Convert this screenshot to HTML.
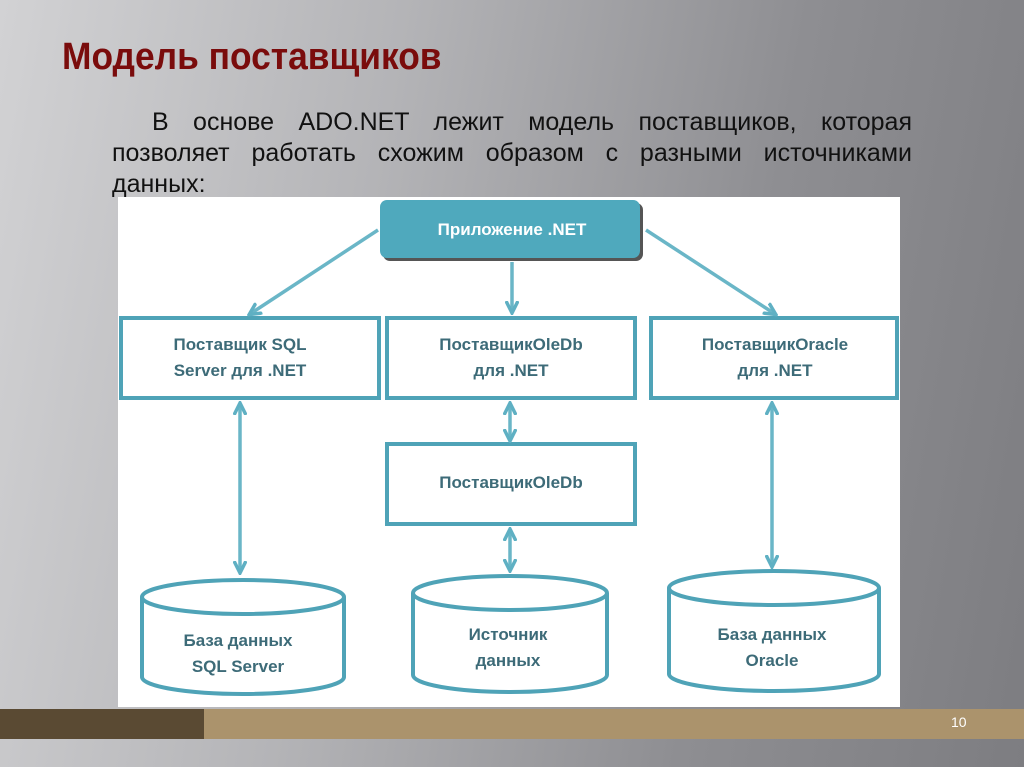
<!DOCTYPE html>
<html><head><meta charset="utf-8"><style>
html,body{margin:0;padding:0}
body{width:1024px;height:767px;position:relative;overflow:hidden;
background:linear-gradient(100deg,#d2d2d4 0%,#b4b4b7 35%,#8e8e92 70%,#7d7d81 100%);
font-family:"Liberation Sans",sans-serif}
.t{position:absolute;left:62px;top:36px;font-size:38px;font-weight:bold;color:#7a0c0c;transform:scaleX(.93);transform-origin:left top;white-space:nowrap}
.p{position:absolute;left:112px;top:107px;width:800px;font-size:25px;color:#111;line-height:31px}
.p div{text-align:justify;text-align-last:justify;height:31px}
.p div.f{padding-left:40px}
.p div.l{text-align-last:left}
.bar1{position:absolute;left:0;top:709px;width:204px;height:30px;background:#5a4a33}
.bar2{position:absolute;left:204px;top:709px;width:820px;height:30px;background:#ab936c}
.n{position:absolute;left:951px;top:714px;color:#fff;font-size:14px}
</style></head><body>
<div class="t">Модель поставщиков</div>
<div class="p"><div class="f">В основе ADO.NET лежит модель поставщиков, которая</div><div>позволяет работать схожим образом с разными источниками</div><div class="l">данных:</div></div>
<svg style="position:absolute;left:0;top:0" width="1024" height="767">
<defs><marker id="a" markerWidth="14" markerHeight="14" refX="11" refY="7" orient="auto-start-reverse" markerUnits="userSpaceOnUse"><path d="M0,1 L12,7 L0,13" fill="none" stroke="#5fb0c3" stroke-width="3.5"/></marker></defs>
<rect x="118" y="197" width="782" height="510" fill="#fff"/>
<rect x="383" y="203" width="260" height="58" rx="7" fill="#555"/>
<rect x="380" y="200" width="260" height="58" rx="7" fill="#4fa9bd"/>
<g font-family="Liberation Sans" font-weight="bold" font-size="17" fill="#3d6b78" text-anchor="middle">
<text x="512" y="235" fill="#fff">Приложение .NET</text>
<g fill="none" stroke="#4fa3b7" stroke-width="4">
<rect x="121" y="318" width="258" height="80"/>
<rect x="387" y="318" width="248" height="80"/>
<rect x="651" y="318" width="246" height="80"/>
<rect x="387" y="444" width="248" height="80"/>
</g>
<g stroke="#6ab6c7" stroke-width="3.5" marker-end="url(#a)">
<line x1="378" y1="230" x2="250" y2="314"/>
<line x1="512" y1="262" x2="512" y2="312"/>
<line x1="646" y1="230" x2="775" y2="314"/>
<line x1="240" y1="404" x2="240" y2="572" marker-start="url(#a)"/>
<line x1="510" y1="404" x2="510" y2="440" marker-start="url(#a)"/>
<line x1="510" y1="530" x2="510" y2="570" marker-start="url(#a)"/>
<line x1="772" y1="404" x2="772" y2="566" marker-start="url(#a)"/>
</g>
<g fill="#fff" stroke="#4fa3b7" stroke-width="4">
<path d="M142,597 L142,677 A101,17 0 0 0 344,677 L344,597"/><ellipse cx="243" cy="597" rx="101" ry="17"/>
<path d="M413,593 L413,675 A97,17 0 0 0 607,675 L607,593"/><ellipse cx="510" cy="593" rx="97" ry="17"/>
<path d="M669,588 L669,674 A105,17 0 0 0 879,674 L879,588"/><ellipse cx="774" cy="588" rx="105" ry="17"/>
</g>
<text x="240" y="350">Поставщик SQL</text><text x="240" y="376">Server для .NET</text>
<text x="511" y="350">ПоставщикOleDb</text><text x="511" y="376">для .NET</text>
<text x="775" y="350">ПоставщикOracle</text><text x="775" y="376">для .NET</text>
<text x="511" y="488">ПоставщикOleDb</text>
<text x="238" y="646">База данных</text><text x="238" y="672">SQL Server</text>
<text x="508" y="640">Источник</text><text x="508" y="666">данных</text>
<text x="772" y="640">База данных</text><text x="772" y="666">Oracle</text>
</g>
</svg>
<div class="bar1"></div><div class="bar2"></div><div class="n">10</div>
</body></html>
